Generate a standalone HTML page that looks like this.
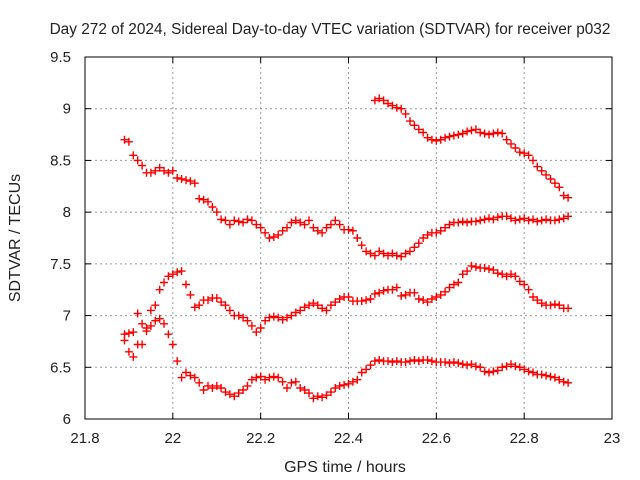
<!DOCTYPE html>
<html><head><meta charset="utf-8"><style>
body{margin:0;background:#fff}
svg{display:block}
text{font-family:"Liberation Sans",sans-serif;font-size:15px;fill:#222}
</style></head><body>
<svg id="chart" width="640" height="480" xmlns="http://www.w3.org/2000/svg">
<rect width="640" height="480" fill="#fff"/>
<g id="grid"></g>
<g id="axes"></g>
<g id="marks"></g>
<text x="330" y="34" text-anchor="middle" style="font-size:15.4px">Day 272 of 2024, Sidereal Day-to-day VTEC variation (SDTVAR) for receiver p032</text>
<text x="345" y="472" text-anchor="middle" style="font-size:16px">GPS time / hours</text>
<text x="0" y="0" text-anchor="middle" transform="translate(20,238) rotate(-90)" style="font-size:16px">SDTVAR / TECUs</text>
</svg>
<script>
const xTicks=[21.8,22,22.2,22.4,22.6,22.8,23];
const xTickLabels=["21.8","22","22.2","22.4","22.6","22.8","23"];
const yTicks=[6,6.5,7,7.5,8,8.5,9,9.5];
const yTickLabels=["6","6.5","7","7.5","8","8.5","9","9.5"];
const stepHours=0.01;
const series1Start=21.89;
const series1=[8.70,8.68,8.55,8.50,8.45,8.38,8.38,8.40,8.43,8.40,8.38,8.40,8.33,8.32,8.31,8.30,8.28,8.13,8.12,8.10,8.05,8.00,7.93,7.92,7.88,7.92,7.91,7.90,7.93,7.92,7.88,7.85,7.80,7.75,7.76,7.78,7.82,7.85,7.90,7.92,7.90,7.88,7.92,7.85,7.82,7.80,7.85,7.88,7.92,7.88,7.83,7.83,7.82,7.75,7.68,7.62,7.60,7.58,7.62,7.60,7.58,7.60,7.58,7.57,7.60,7.62,7.66,7.70,7.75,7.78,7.80,7.80,7.82,7.85,7.88,7.90,7.90,7.91,7.90,7.91,7.91,7.92,7.93,7.94,7.93,7.95,7.96,7.96,7.94,7.92,7.93,7.94,7.92,7.93,7.91,7.92,7.93,7.92,7.92,7.93,7.94,7.96];
const series2Start=22.46;
const series2=[9.08,9.10,9.08,9.05,9.03,9.01,9.00,8.95,8.88,8.84,8.80,8.77,8.72,8.70,8.69,8.70,8.72,8.73,8.74,8.75,8.76,8.78,8.79,8.80,8.77,8.76,8.75,8.76,8.77,8.76,8.70,8.66,8.62,8.58,8.57,8.55,8.50,8.44,8.40,8.36,8.32,8.28,8.24,8.16,8.14];
const series3Start=21.89;
const series3=[6.82,6.83,6.84,7.02,6.92,6.88,7.05,7.10,7.25,7.32,7.38,7.40,7.42,7.43,7.30,7.20,7.08,7.10,7.15,7.15,7.17,7.17,7.13,7.10,7.05,7.00,7.00,6.98,6.95,6.90,6.84,6.88,6.95,6.98,6.99,6.98,6.96,6.98,7.00,7.03,7.05,7.08,7.10,7.12,7.10,7.07,7.05,7.10,7.13,7.16,7.18,7.18,7.14,7.14,7.14,7.15,7.16,7.21,7.22,7.24,7.25,7.25,7.27,7.19,7.20,7.22,7.22,7.16,7.15,7.13,7.16,7.18,7.20,7.23,7.27,7.30,7.32,7.40,7.43,7.48,7.47,7.46,7.46,7.45,7.44,7.41,7.40,7.38,7.40,7.38,7.33,7.30,7.25,7.18,7.15,7.12,7.10,7.10,7.11,7.10,7.07,7.07];
const series4Start=21.89;
const series4=[6.76,6.65,6.60,6.72,6.72,6.85,6.90,6.95,6.97,6.92,6.82,6.72,6.56,6.40,6.45,6.42,6.40,6.35,6.28,6.32,6.30,6.32,6.30,6.26,6.24,6.22,6.25,6.28,6.32,6.38,6.40,6.41,6.38,6.40,6.41,6.40,6.36,6.30,6.35,6.36,6.30,6.28,6.25,6.20,6.22,6.21,6.23,6.26,6.30,6.32,6.33,6.34,6.36,6.38,6.45,6.48,6.52,6.56,6.57,6.56,6.56,6.55,6.56,6.55,6.55,6.56,6.57,6.56,6.57,6.57,6.56,6.55,6.55,6.55,6.54,6.55,6.54,6.53,6.52,6.53,6.51,6.50,6.46,6.45,6.46,6.47,6.50,6.51,6.53,6.51,6.50,6.48,6.46,6.45,6.43,6.43,6.42,6.41,6.40,6.38,6.36,6.35];

const L=85,R=612,T=57,B=419,xMin=21.8,xMax=23,yMin=6,yMax=9.5;
const NS="http://www.w3.org/2000/svg";
function xs(v){return L+(v-xMin)/(xMax-xMin)*(R-L);}
function ys(v){return B-(v-yMin)/(yMax-yMin)*(B-T);}
function mk(tag,attrs,parent){const e=document.createElementNS(NS,tag);for(const k in attrs)e.setAttribute(k,attrs[k]);parent.appendChild(e);return e;}
const grid=document.getElementById('grid'),axes=document.getElementById('axes'),marks=document.getElementById('marks');
xTicks.forEach((t,i)=>{
  const x=xs(t);
  if(i>0&&i<xTicks.length-1){const g=mk('line',{x1:x,x2:x,y1:T,y2:B,stroke:'#999','stroke-dasharray':'2,3'},grid);
  
  }
  const a=mk('line',{x1:x,x2:x,y1:B,y2:B-6,stroke:'#000'},axes);
  
  
  const b=mk('line',{x1:x,x2:x,y1:T,y2:T+6,stroke:'#000'},axes);
  
  
  const l=mk('text',{x:x,y:B+24,'text-anchor':'middle'},axes);l.textContent=xTickLabels[i];
  
  
});
yTicks.forEach((t,i)=>{
  const y=ys(t);
  if(i>0&&i<yTicks.length-1){const g=mk('line',{x1:L,x2:R,y1:y,y2:y,stroke:'#999','stroke-dasharray':'2,3'},grid);
  
  }
  const a=mk('line',{x1:L,x2:L+6,y1:y,y2:y,stroke:'#000'},axes);
  
  
  const b=mk('line',{x1:R,x2:R-6,y1:y,y2:y,stroke:'#000'},axes);
  
  
  const l=mk('text',{x:L-14,y:y+5,'text-anchor':'end'},axes);l.textContent=yTickLabels[i];
  
  
});
const frame=mk('rect',{x:L,y:T,width:R-L,height:B-T,fill:'none',stroke:'#000','stroke-width':1},axes);


function drawSeries(start,vals,name){
  const g=mk('g',{},marks);
  
  
  let d='';
  vals.forEach((v,i)=>{const x=xs(start+i*stepHours),y=ys(v);
    d+=`M${(x-4).toFixed(1)} ${y.toFixed(1)}h8M${x.toFixed(1)} ${(y-4).toFixed(1)}v8`;});
  const p=mk('path',{d:d,stroke:'#f00','stroke-width':1.4,fill:'none'},g);
  
  
}
drawSeries(series1Start,series1,'series-1');
drawSeries(series2Start,series2,'series-2');
drawSeries(series3Start,series3,'series-3');
drawSeries(series4Start,series4,'series-4');
</script>
</body></html>
